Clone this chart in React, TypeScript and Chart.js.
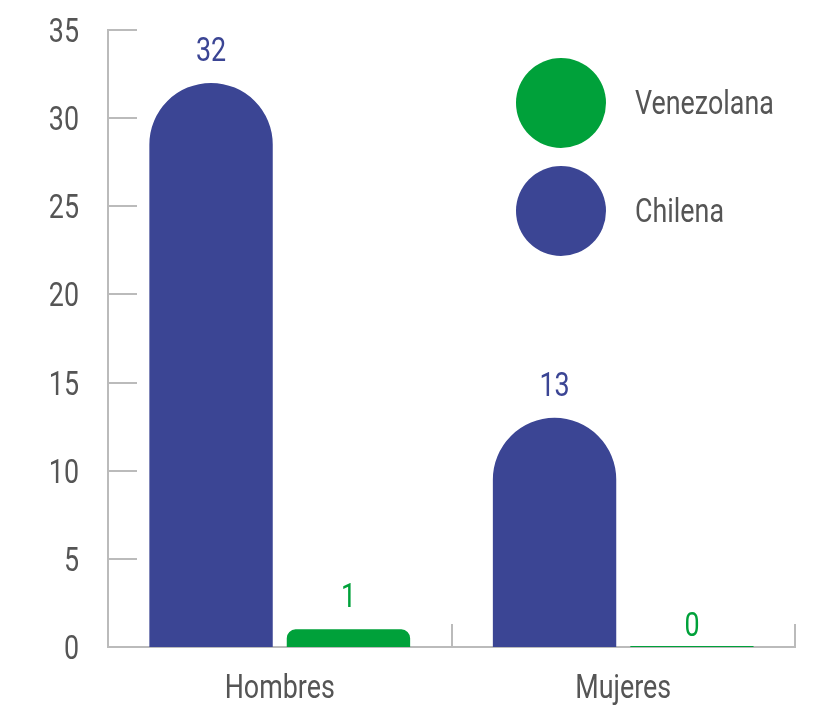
import React, { useEffect, useRef } from "react";
import { Chart, registerables } from "chart.js";

Chart.register(...registerables);

const categories = ["Hombres", "Mujeres"];
const seriesNames = ["Chilena", "Venezolana"];
const chilenaValues = [32, 13];
const venezolanaValues = [1, 0];
const seriesColors = ["#3b4594", "#00a13a"];
const yTickValues = [0, 5, 10, 15, 20, 25, 30, 35];

const FONT = "Roboto, 'Noto Sans', sans-serif";
const FONT_SIZE = 34;
const SX = 0.79; // horizontal condensing of the font
const TEXT_COLOR = "#555555";
const AXIS_COLOR = "#bbbbbb";

function drawText(ctx: CanvasRenderingContext2D, text: string, x: number, y: number, align: CanvasTextAlign, color: string) {
  ctx.save();
  ctx.font = `${FONT_SIZE}px ${FONT}`;
  ctx.fillStyle = color;
  ctx.textAlign = align;
  ctx.textBaseline = "alphabetic";
  ctx.translate(x, y);
  ctx.scale(SX, 1);
  ctx.fillText(text, 0, 0);
  ctx.restore();
}

const axisPlugin = {
  id: "axisTicksAndLabels",
  beforeDatasetsDraw(chart: any) {
    const { ctx, chartArea, scales } = chart;
    const x = scales.x;
    const y = scales.y;
    ctx.save();
    ctx.strokeStyle = AXIS_COLOR;
    ctx.lineWidth = 2;
    ctx.beginPath();
    y.ticks.forEach((t: any) => {
      const py = Math.round(y.getPixelForValue(t.value));
      ctx.moveTo(chartArea.left, py);
      ctx.lineTo(chartArea.left + 29, py);
    });
    for (let i = 0; i <= categories.length; i++) {
      const px = Math.round(x.getPixelForValue(i - 0.5));
      ctx.moveTo(px, chartArea.bottom);
      ctx.lineTo(px, chartArea.bottom - 23);
    }
    ctx.stroke();
    ctx.restore();

    // y tick labels
    y.ticks.forEach((t: any) => {
      const py = y.getPixelForValue(t.value);
      drawText(ctx, String(t.value), chartArea.left - 29, py + 12, "right", TEXT_COLOR);
    });
    // x category labels
    categories.forEach((c, i) => {
      drawText(ctx, c, x.getPixelForValue(i), chartArea.bottom + 51, "center", TEXT_COLOR);
    });
  },
};

const valueLabelsPlugin = {
  id: "valueLabels",
  afterDatasetsDraw(chart: any) {
    const { ctx } = chart;
    chart.data.datasets.forEach((ds: any, di: number) => {
      const meta = chart.getDatasetMeta(di);
      meta.data.forEach((el: any, i: number) => {
        const v = ds.data[i];
        const off = v === 0 ? 10 : 22;
        drawText(ctx, String(v), el.x, el.y - off, "center", ds.backgroundColor);
      });
    });
  },
};

const legendPlugin = {
  id: "circleLegend",
  afterDraw(chart: any) {
    const { ctx, chartArea } = chart;
    const items = chart.data.datasets.slice().reverse();
    const cx = chartArea.right - 234;
    const cy0 = chartArea.top + 73;
    const step = 108;
    items.forEach((ds: any, i: number) => {
      const cy = cy0 + i * step;
      ctx.save();
      ctx.fillStyle = ds.backgroundColor;
      ctx.beginPath();
      ctx.arc(cx, cy, 45, 0, Math.PI * 2);
      ctx.fill();
      ctx.restore();
      drawText(ctx, ds.label, cx + 74, cy + 11, "left", TEXT_COLOR);
    });
  },
};

export default function App() {
  const canvasRef = useRef<HTMLCanvasElement | null>(null);

  useEffect(() => {
    const canvas = canvasRef.current;
    if (!canvas) return;
    const barStyle = {
      borderRadius: { topLeft: 200, topRight: 200, bottomLeft: 0, bottomRight: 0 },
      borderSkipped: "bottom",
      categoryPercentage: 0.8,
      barPercentage: 0.898,
    };
    const chart = new Chart(canvas, {
      type: "bar",
      data: {
        labels: categories,
        datasets: [
          {
            label: seriesNames[0],
            data: chilenaValues,
            backgroundColor: seriesColors[0],
            ...barStyle,
          },
          {
            label: seriesNames[1],
            data: venezolanaValues,
            backgroundColor: seriesColors[1],
            ...barStyle,
            minBarLength: 1,
          },
        ],
      } as any,
      options: {
        responsive: false,
        animation: false,
        devicePixelRatio: 1,
        layout: { padding: { top: 30, right: 27, left: 0, bottom: 0 } },
        plugins: {
          legend: { display: false },
          tooltip: { enabled: false },
        },
        scales: {
          x: {
            grid: { display: false, drawTicks: false },
            border: { display: true, color: AXIS_COLOR, width: 2 },
            ticks: { display: false },
            afterFit(scale: any) {
              scale.height = 59;
            },
          },
          y: {
            min: 0,
            max: 35,
            grid: { display: false, drawTicks: false },
            border: { display: true, color: AXIS_COLOR, width: 2 },
            ticks: { display: false },
            afterBuildTicks(scale: any) {
              scale.ticks = yTickValues.map((v) => ({ value: v }));
            },
            afterFit(scale: any) {
              scale.width = 108;
            },
          },
        },
      },
      plugins: [axisPlugin, valueLabelsPlugin, legendPlugin],
    });
    return () => chart.destroy();
  }, []);

  return (
    <div style={{ position: "absolute", left: 0, top: 0, width: 822, height: 706, background: "#ffffff" }}>
      <canvas ref={canvasRef} width={822} height={706} />
    </div>
  );
}
